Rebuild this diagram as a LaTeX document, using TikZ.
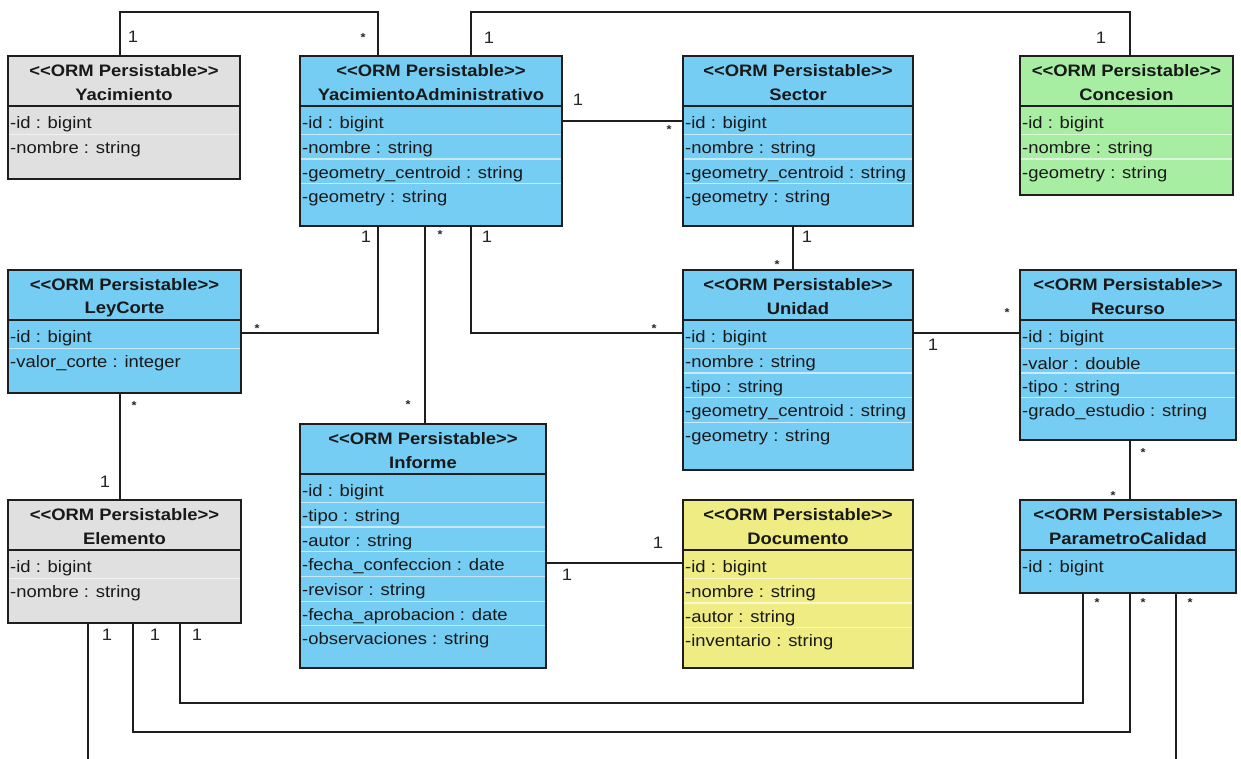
\documentclass[tikz,border=0pt]{standalone}
\usepackage{fontspec}
\newfontfamily\umlfont{Liberation Sans}[FakeStretch=1.11]
\usetikzlibrary{calc,fit}
\definecolor{ublue}{RGB}{117,205,243}
\definecolor{ugray}{RGB}{224,224,224}
\definecolor{ugreen}{RGB}{168,238,162}
\definecolor{uyellow}{RGB}{238,236,130}
\definecolor{uline}{RGB}{30,30,30}
\tikzset{
  classbox/.style={draw=uline, line width=1.5pt, inner sep=0pt, outer sep=0pt, rectangle},
  hdr/.style={font=\umlfont\fontsize{16.6}{18}\selectfont\bfseries, inner sep=0pt, text=black!90},
  attr/.style={font=\umlfont\fontsize{16.6}{18}\selectfont, inner sep=0pt, anchor=west, text=black!90},
  conn/.style={draw=uline, line width=1.3pt},
  mult/.style={font=\umlfont\fontsize{16.6}{18}\selectfont, inner sep=0pt, text=black!85},
  mstar/.style={font=\umlfont\fontsize{11.5}{13}\selectfont\bfseries, inner sep=0pt, text=black!85, yshift=-2.5pt},
  rowsep/.style={draw=white, line width=1.2pt, opacity=0.6},
  divider/.style={draw=uline, line width=1.5pt}
}
\newcommand\umlclass[6]{%
  \node[classbox, fill=#2, fit={(#3) (#4)}] (#1) {};
  \node[hdr] (#1-st) at ($(#1.north)+(0,15)$) {<<ORM Persistable>>};
  \node[hdr] (#1-nm) at ($(#1.north)+(0,39)$) {#5};
  \draw[divider] ($(#1.north west)+(0,50)$) -- ($(#1.north east)+(0,50)$);
  \foreach \a [count=\i] in {#6} {
    \node[attr] (#1-a\i) at ($(#1.north west)+(2,43.8+24.7*\i)$) {\a};
    \ifnum\i>1
      \draw[rowsep] ($(#1.north west)+(1,28.95+24.7*\i)$) -- ($(#1.north east)+(-1,28.95+24.7*\i)$);
    \fi
  }
}
\begin{document}
\begin{tikzpicture}[x=1pt,y=-1pt]
\fill[white] (0,0) rectangle (1241,759);
\useasboundingbox (0,0) rectangle (1241,759);

\umlclass{yac}{ugray}{8,56}{240,179}{Yacimiento}{-id : bigint,-nombre : string}
\umlclass{yadm}{ublue}{300,56}{562,226}{YacimientoAdministrativo}{-id : bigint,-nombre : string,-geometry\_centroid : string,-geometry : string}
\umlclass{sec}{ublue}{683,56}{913,226}{Sector}{-id : bigint,-nombre : string,-geometry\_centroid : string,-geometry : string}
\umlclass{con}{ugreen}{1020,56}{1233,195}{Concesion}{-id : bigint,-nombre : string,-geometry : string}
\umlclass{ley}{ublue}{8,270}{241,393}{LeyCorte}{-id : bigint,-valor\_corte : integer}
\umlclass{uni}{ublue}{683,270}{913,470}{Unidad}{-id : bigint,-nombre : string,-tipo : string,-geometry\_centroid : string,-geometry : string}
\umlclass{rec}{ublue}{1020,270}{1236,440}{Recurso}{-id : bigint,-valor : double,-tipo : string,-grado\_estudio : string}
\umlclass{inf}{ublue}{300,424}{546,668}{Informe}{-id : bigint,-tipo : string,-autor : string,-fecha\_confeccion : date,-revisor : string,-fecha\_aprobacion : date,-observaciones : string}
\umlclass{ele}{ugray}{8,500}{241,623}{Elemento}{-id : bigint,-nombre : string}
\umlclass{doc}{uyellow}{683,500}{913,668}{Documento}{-id : bigint,-nombre : string,-autor : string,-inventario : string}
\umlclass{pc}{ublue}{1020,500}{1236,593}{ParametroCalidad}{-id : bigint}

% connectors
\draw[conn] ($(yac.north west)+(112,0)$) -- ++(0,-44) -| ($(yadm.north west)+(78,0)$);
\draw[conn] ($(yadm.north west)+(171,0)$) -- ++(0,-44) -| ($(con.north west)+(110,0)$);
\draw[conn] ($(yadm.north east)+(0,65)$) -- ($(sec.north west)+(0,65)$);
\draw[conn] ($(sec.south west)+(110,0)$) -- ($(uni.north west)+(110,0)$);
\draw[conn] ($(yadm.south west)+(78,0)$) |- ($(ley.north east)+(0,63)$);
\draw[conn] ($(yadm.south west)+(125,0)$) -- ($(inf.north west)+(125,0)$);
\draw[conn] ($(yadm.south west)+(171,0)$) |- ($(uni.north west)+(0,63)$);
\draw[conn] ($(uni.north east)+(0,63)$) -- ($(rec.north west)+(0,63)$);
\draw[conn] ($(rec.south west)+(110,0)$) -- ($(pc.north west)+(110,0)$);
\draw[conn] ($(ley.south west)+(112,0)$) -- ($(ele.north west)+(112,0)$);
\draw[conn] ($(inf.north east)+(0,139)$) -- ($(doc.north west)+(0,63)$);
\draw[conn] ($(ele.south west)+(172,0)$) -- ++(0,80) -| ($(pc.south west)+(63,0)$);
\draw[conn] ($(ele.south west)+(125,0)$) -- ++(0,109) -| ($(pc.south west)+(110,0)$);
\coordinate (eleout) at (88,759);
\coordinate (pcout) at (1176,759);
\draw[conn] ($(ele.south west)+(80,0)$) -- (eleout);
\draw[conn] ($(pc.south west)+(156,0)$) -- (pcout);

% multiplicities
\node[mult]  (m1a) at (133,37) {1};
\node[mstar] (m1b) at (363,35) {*};
\node[mult]  (m2a) at (489,38) {1};
\node[mult]  (m2b) at (1101,38) {1};
\node[mult]  (m3a) at (578,100) {1};
\node[mstar] (m3b) at (669,127) {*};
\node[mult]  (m4a) at (807,237) {1};
\node[mstar] (m4b) at (777,262) {*};
\node[mult]  (m5a) at (366,237) {1};
\node[mstar] (m5b) at (257,326) {*};
\node[mstar] (m6a) at (440,232) {*};
\node[mstar] (m6b) at (408,402) {*};
\node[mult]  (m7a) at (487,237) {1};
\node[mstar] (m7b) at (654,326) {*};
\node[mult]  (m8a) at (933,345) {1};
\node[mstar] (m8b) at (1007,310) {*};
\node[mstar] (m9a) at (1143,450) {*};
\node[mstar] (m9b) at (1113,493) {*};
\node[mstar] (m10a) at (134,403) {*};
\node[mult]  (m10b) at (105,482) {1};
\node[mult]  (m11a) at (567,575) {1};
\node[mult]  (m11b) at (658,543) {1};
\node[mult]  (m14) at (107,635) {1};
\node[mult]  (m13) at (155,635) {1};
\node[mult]  (m12) at (197,635) {1};
\node[mstar] (m12b) at (1097,600) {*};
\node[mstar] (m13b) at (1143,600) {*};
\node[mstar] (m15) at (1190,600) {*};
\end{tikzpicture}
\end{document}
